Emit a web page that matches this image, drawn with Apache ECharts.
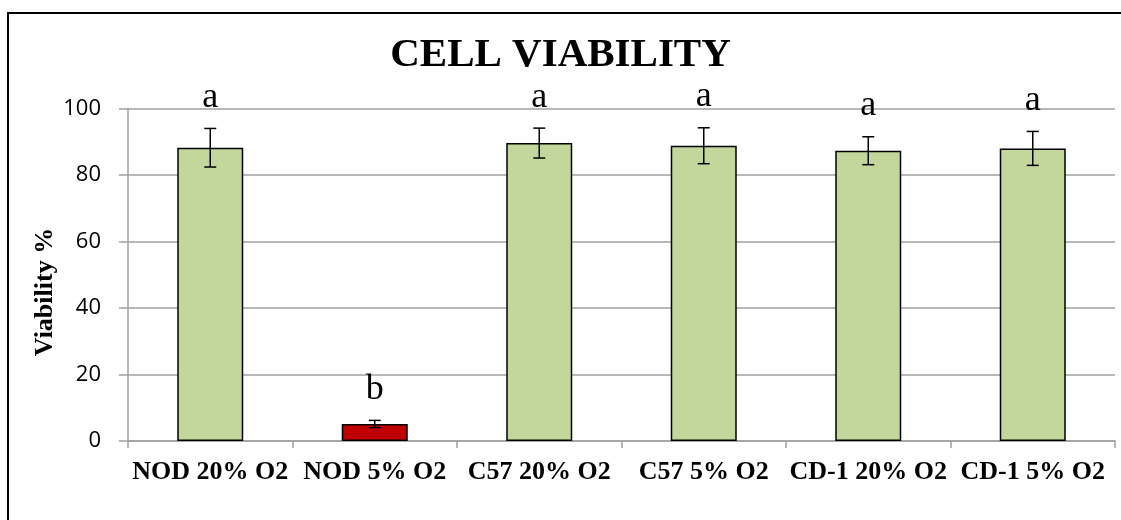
<!DOCTYPE html>
<html>
<head>
<meta charset="utf-8">
<script src="https://cdn.jsdelivr.net/npm/echarts@6/dist/echarts.min.js"></script>
<style>
html,body{margin:0;padding:0;background:#fff;}
#chart{width:1121px;height:520px;}
</style>
</head>
<body>
<div id="chart"></div>
<script>
const categories = ['NOD 20% O2', 'NOD 5% O2', 'C57 20% O2', 'C57 5% O2', 'CD-1 20% O2', 'CD-1 5% O2'];
const viability = [88.2, 5.1, 89.6, 88.8, 87.3, 88.0];
const errors = [5.8, 1.1, 4.5, 5.4, 4.2, 5.1];
const letters = ['a', 'b', 'a', 'a', 'a', 'a'];
const yTicks = [0, 20, 40, 60, 80, 100];

const green = '#C3D69B';
const red = '#C00000';
const serif = '"Liberation Serif", "Times New Roman", serif';

const chart = echarts.init(document.getElementById('chart'), null, {renderer: 'canvas'});

const barData = viability.map((v, i) => ({
  value: v,
  itemStyle: {color: letters[i] === 'b' ? red : green}
}));

const errData = viability.map((v, i) => [i, v - errors[i], v + errors[i], letters[i]]);

chart.setOption({
  animation: false,
  backgroundColor: '#fff',
  title: {
    text: 'CELL VIABILITY',
    left: 'center',
    top: 30,
    textStyle: {fontFamily: serif, fontWeight: 'bold', fontSize: 41, color: '#000'}
  },
  graphic: [
    {
      type: 'rect',
      shape: {x: 8, y: 13, width: 1200, height: 600},
      style: {fill: 'none', stroke: '#000', lineWidth: 2},
      silent: true
    },
    {
      type: 'text',
      x: 45, y: 292,
      rotation: Math.PI / 2,
      style: {
        text: 'Viability %',
        fontFamily: serif, fontWeight: 'bold', fontSize: 26, fill: '#000',
        align: 'center', verticalAlign: 'middle'
      }
    }
  ],
  grid: {left: 128, right: 6, top: 108.5, bottom: 79, containLabel: false},
  xAxis: {
    type: 'category',
    data: categories,
    axisLine: {lineStyle: {color: '#A0A0A0', width: 1.5}},
    axisTick: {show: true, length: 7, lineStyle: {color: '#A0A0A0', width: 1.5}},
    axisLabel: {
      interval: 0, margin: 18,
      fontFamily: serif, fontWeight: 'bold', fontSize: 26, color: '#000'
    }
  },
  yAxis: {
    type: 'value',
    min: 0, max: 100, interval: 20,
    axisLine: {show: true, lineStyle: {color: '#A0A0A0', width: 1.5}},
    axisTick: {show: true, length: 9, lineStyle: {color: '#A0A0A0', width: 1.5}},
    splitLine: {lineStyle: {color: '#A0A0A0', width: 1.5}},
    axisLabel: {
      margin: 27,
      fontFamily: '"Open Sans", "Liberation Sans", sans-serif', fontSize: 22, color: '#000',
      formatter: v => yTicks.includes(v) ? String(v) : ''
    }
  },
  series: [
    {
      type: 'bar',
      data: barData,
      barWidth: 66,
      itemStyle: {borderColor: '#000', borderWidth: 1.5},
      z: 2
    },
    {
      type: 'custom',
      data: errData,
      z: 3,
      renderItem: function (params, api) {
        const x = api.coord([api.value(0), 0])[0];
        const lo = api.coord([api.value(0), api.value(1)])[1];
        const hi = api.coord([api.value(0), api.value(2)])[1];
        const cap = 6;
        const st = {stroke: '#000', lineWidth: 1.5};
        return {
          type: 'group',
          children: [
            {type: 'line', shape: {x1: x, y1: lo, x2: x, y2: hi}, style: st},
            {type: 'line', shape: {x1: x - cap, y1: lo, x2: x + cap, y2: lo}, style: st},
            {type: 'line', shape: {x1: x - cap, y1: hi, x2: x + cap, y2: hi}, style: st},
            {
              type: 'text',
              x: x, y: hi - 13,
              style: {
                text: letters[params.dataIndex],
                fontFamily: serif, fontSize: 36, fill: '#000',
                align: 'center', verticalAlign: 'bottom'
              }
            }
          ]
        };
      }
    }
  ]
});
</script>
</body>
</html>
